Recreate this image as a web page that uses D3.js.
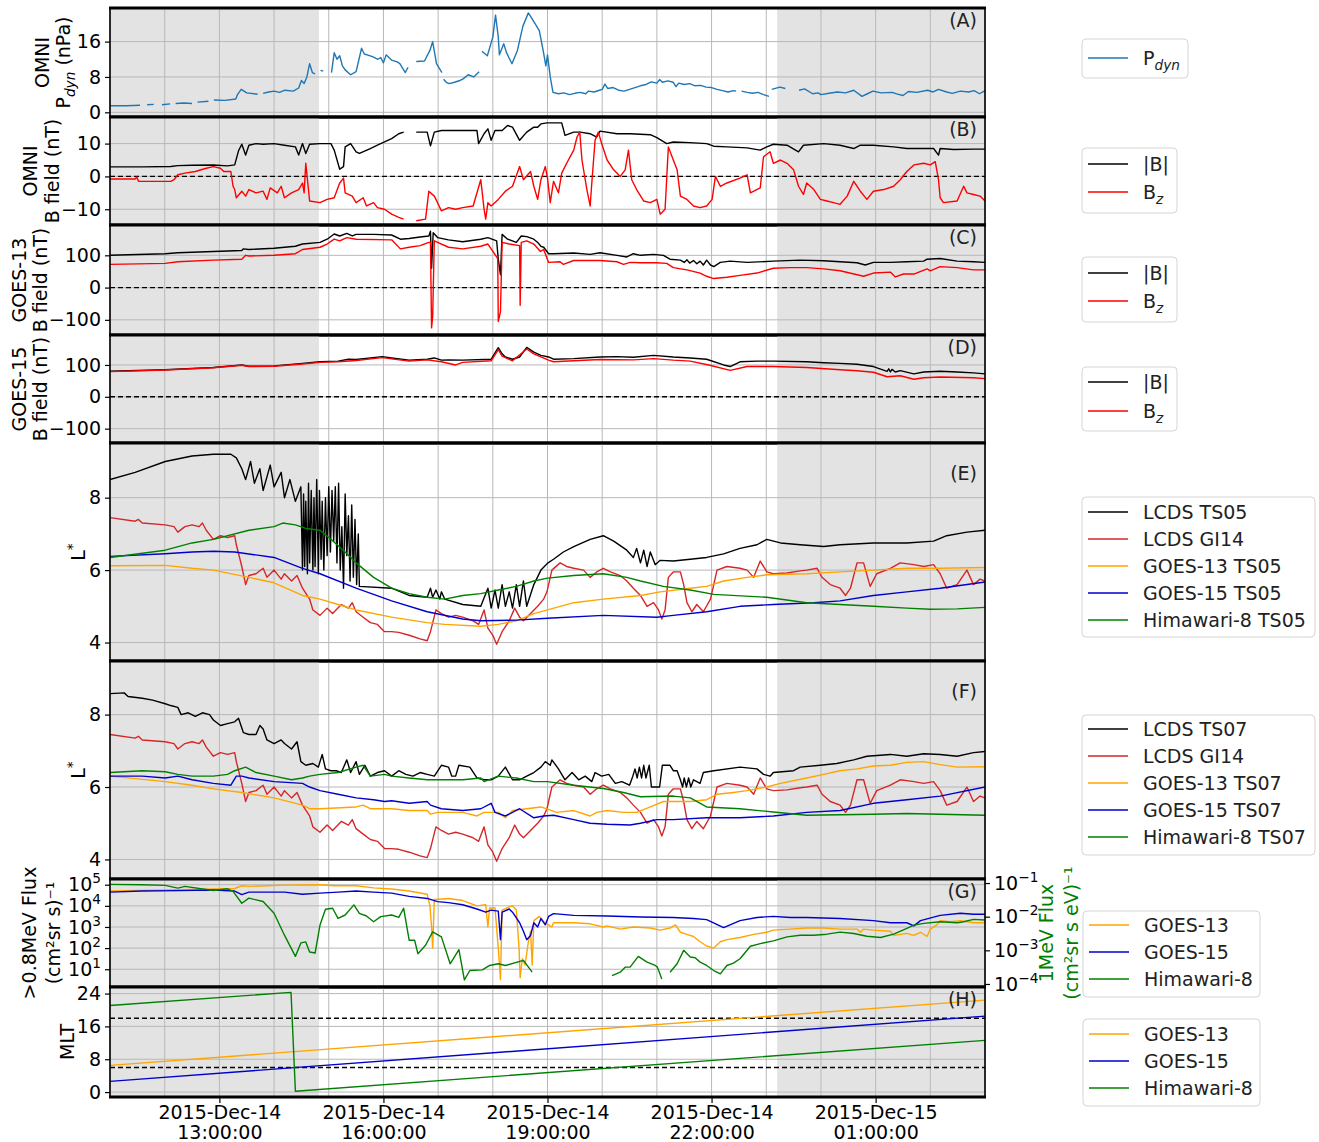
<!DOCTYPE html>
<html>
<head>
<meta charset="utf-8">
<script src="https://cdn.jsdelivr.net/npm/d3@7"></script>
<style>
  body { margin: 0; background: #fff; }
  text { font-family: "DejaVu Sans", sans-serif; }
</style>
</head>
<body>
<svg id="chart" width="1319" height="1142"></svg>
<script>
// ---- data : [hour since 2015-12-14 00:00 UT, value] ; null = data gap ----
const pdyn = [[11.0,1.5],[11.3,1.5],[11.55,1.6],[11.6,null],[11.68,1.7],[11.8,1.8],[11.85,null],[11.95,1.7],[12.1,1.9],[12.15,null],[12.2,2.0],[12.35,2.1],[12.5,2.0],[12.55,null],[12.6,2.3],[12.8,2.5],[12.85,null],[12.9,2.8],[13.1,2.7],[13.3,3.0],[13.33,4.0],[13.4,5.2],[13.5,4.4],[13.7,4.1],[13.75,null],[13.8,4.3],[13.9,4.6],[14.0,4.8],[14.1,4.5],[14.2,5.0],[14.35,4.8],[14.45,5.5],[14.5,7.2],[14.55,6.5],[14.6,8.0],[14.65,11.0],[14.7,9.0],[14.75,8.7],[14.8,null],[14.85,9.5],[14.9,9.3],[14.95,null],[15.05,9.0],[15.1,13.5],[15.15,12.0],[15.2,12.8],[15.25,10.5],[15.3,9.6],[15.4,8.5],[15.5,9.2],[15.6,14.5],[15.65,13.2],[15.7,13.0],[15.8,12.6],[15.9,12.0],[15.95,12.4],[16.0,11.2],[16.05,13.0],[16.15,11.8],[16.25,11.4],[16.3,11.0],[16.35,10.0],[16.4,9.0],[16.45,10.2],[16.5,null],[16.6,11.5],[16.75,11.6],[16.85,14.0],[16.9,16.0],[16.97,11.0],[17.07,9.0],[17.09,null],[17.1,7.5],[17.15,6.8],[17.2,6.5],[17.3,6.8],[17.4,7.2],[17.45,7.5],[17.55,8.5],[17.65,8.0],[17.75,9.2],[17.77,null],[17.8,13.8],[17.9,12.8],[18.0,17.0],[18.05,22.0],[18.1,17.0],[18.12,13.0],[18.2,15.5],[18.25,13.5],[18.35,11.0],[18.45,14.0],[18.55,19.5],[18.65,22.5],[18.75,20.5],[18.85,18.5],[18.92,14.0],[18.97,10.5],[19.0,13.0],[19.05,8.0],[19.1,4.5],[19.2,4.2],[19.3,4.4],[19.4,4.0],[19.5,4.3],[19.6,4.5],[19.7,4.2],[19.75,4.8],[19.85,4.6],[19.95,5.0],[20.0,5.2],[20.05,6.4],[20.1,5.4],[20.2,5.6],[20.3,5.0],[20.4,4.8],[20.5,5.2],[20.6,5.6],[20.7,6.0],[20.8,6.3],[20.9,6.9],[21.0,6.6],[21.05,7.4],[21.1,6.8],[21.2,7.1],[21.3,6.8],[21.35,5.8],[21.4,6.6],[21.5,6.3],[21.6,6.5],[21.7,6.0],[21.8,6.1],[21.9,5.7],[22.0,5.6],[22.1,5.2],[22.2,4.9],[22.3,4.6],[22.4,4.9],[22.45,4.8],[22.5,null],[22.55,4.8],[22.65,4.5],[22.75,4.3],[22.85,4.5],[22.95,4.0],[23.05,3.6],[23.08,null],[23.1,5.2],[23.25,5.7],[23.35,5.4],[23.45,null],[23.6,5.0],[23.7,5.3],[23.85,4.2],[23.95,4.4],[24.0,4.0],[24.15,4.3],[24.3,4.6],[24.45,4.4],[24.6,5.0],[24.75,3.6],[24.85,4.2],[24.95,4.8],[25.1,4.4],[25.3,4.5],[25.4,4.1],[25.5,3.8],[25.6,4.7],[25.75,4.5],[25.95,5.0],[26.05,4.6],[26.15,5.2],[26.3,4.6],[26.4,4.3],[26.55,4.8],[26.7,4.6],[26.8,4.9],[26.9,4.2],[27.0,4.9]];

const omniB = [[11.0,2.9],[11.6,2.9],[12.11,3.0],[12.24,3.3],[12.5,3.4],[12.89,3.5],[13.15,3.2],[13.28,3.5],[13.35,7.8],[13.41,9.8],[13.48,6.5],[13.54,9.5],[13.67,10],[13.8,9.8],[14.0,10],[14.19,9.5],[14.39,9.0],[14.45,6.5],[14.52,10],[14.58,7.0],[14.65,9.8],[14.84,10],[15.04,10],[15.1,8.0],[15.2,2.2],[15.27,3.0],[15.3,9.0],[15.4,10],[15.5,7.5],[15.56,7.0],[15.76,8.5],[15.89,9.5],[16.02,10.5],[16.15,11.5],[16.28,13.0],[16.37,13.5],[16.5,null],[16.6,13.5],[16.8,13.5],[16.86,9.3],[16.93,13.5],[17.06,14],[17.45,14],[17.71,14],[17.74,10],[17.84,13],[17.91,14.5],[17.97,11],[18.04,14],[18.17,14],[18.27,15.5],[18.36,15],[18.49,11],[18.62,13.5],[18.75,15],[18.82,15],[18.88,16],[18.99,16.3],[19.11,16.3],[19.26,16.3],[19.32,12.5],[19.48,13.5],[19.6,13.5],[19.78,13],[19.9,12],[19.96,13.8],[20.27,13],[20.51,13],[20.88,12.7],[21.0,11.8],[21.18,10],[21.3,10.5],[21.61,10.3],[21.91,10],[22.04,9.2],[22.28,9.0],[22.65,8.7],[22.89,8.0],[23.01,9.0],[23.13,9.8],[23.38,9.5],[23.59,7.5],[23.68,9.5],[24.05,10],[24.35,9.5],[24.6,8.5],[24.72,9.5],[24.96,9.5],[25.33,9.0],[25.57,8.5],[25.88,8.5],[26.06,8.5],[26.15,6.5],[26.18,8.5],[26.43,8.2],[26.79,8.3],[27.0,8.3]];

const omniBz = [[11.0,-0.8],[11.46,-0.8],[11.49,-0.2],[11.52,-1.5],[12.11,-1.5],[12.17,-1.0],[12.24,0.5],[12.37,1.0],[12.56,1.5],[12.76,2.5],[12.89,3.0],[13.02,2.5],[13.08,1.5],[13.21,1.5],[13.25,-3.0],[13.28,-4.0],[13.31,-6.5],[13.41,-4.5],[13.48,-6.0],[13.54,-4.0],[13.67,-5.0],[13.8,-4.5],[13.87,-7.0],[13.93,-3.5],[14.06,-5.0],[14.13,-3.0],[14.19,-6.5],[14.32,-5.0],[14.45,-4.0],[14.52,-2.0],[14.55,-5.0],[14.58,4.0],[14.65,-7.5],[14.84,-8.0],[14.97,-7.0],[15.1,-6.5],[15.2,-2.0],[15.27,-0.5],[15.3,-5.0],[15.43,-6.0],[15.5,-8.0],[15.63,-6.5],[15.69,-9.0],[15.82,-8.0],[15.89,-9.5],[16.02,-10],[16.15,-11.5],[16.28,-12.5],[16.37,-13],[16.5,null],[16.6,-13.5],[16.77,-13],[16.83,-4.5],[16.93,-6.0],[16.99,-8.0],[17.06,-10.5],[17.19,-9.5],[17.32,-10],[17.45,-9.5],[17.64,-9.0],[17.78,-1.0],[17.84,-10],[17.87,-13],[17.91,-8.0],[17.97,-9.0],[18.1,-7.0],[18.23,-4.5],[18.36,-3.0],[18.49,3.0],[18.56,-1.0],[18.69,1.5],[18.75,-3.0],[18.82,-7.0],[18.88,-1.0],[18.96,3.0],[19.0,-0.5],[19.05,-8.0],[19.11,-1.5],[19.2,-5.0],[19.26,1.0],[19.35,4.0],[19.48,8.0],[19.54,12],[19.59,13.5],[19.63,5.0],[19.72,-4.0],[19.78,-9.0],[19.81,-2.0],[19.87,11],[19.93,13.5],[19.99,10],[20.09,5.0],[20.21,2.0],[20.33,0],[20.42,2.0],[20.48,8.0],[20.54,-1.0],[20.63,-4.0],[20.76,-7.5],[20.88,-8.0],[21.0,-7.0],[21.06,-11.5],[21.15,-10],[21.21,9.0],[21.3,5.0],[21.37,2.0],[21.43,-6.0],[21.55,-7.0],[21.67,-9.0],[21.79,-9.5],[21.91,-9.0],[22.01,-7.0],[22.07,0],[22.16,-3.0],[22.28,-2.0],[22.52,-0.5],[22.65,0.5],[22.71,-5.0],[22.89,-3.5],[22.95,6.0],[23.07,7.5],[23.13,4.0],[23.26,5.0],[23.38,4.0],[23.5,2.0],[23.59,-3.0],[23.68,-5.5],[23.74,-2.0],[23.87,-4.0],[23.99,-7.0],[24.11,-7.5],[24.23,-8.0],[24.35,-8.5],[24.48,-6.0],[24.6,-1.5],[24.72,-4.5],[24.84,-7.0],[24.96,-4.5],[25.15,-4.0],[25.33,-3.0],[25.45,-1.0],[25.57,1.5],[25.7,3.5],[25.88,4.0],[26.0,3.5],[26.09,4.5],[26.15,-1.0],[26.18,-6.5],[26.24,-8.0],[26.49,-7.5],[26.61,-3.0],[26.67,-5.0],[26.79,-5.5],[26.91,-6.0],[27.0,-7.5]];

const g13B = [[11.0,100],[12.01,105],[12.24,108],[12.89,112],[13.41,115],[13.44,120],[13.54,118],[14.0,122],[14.39,128],[14.52,135],[14.84,140],[14.97,150],[15.1,166],[15.2,160],[15.33,168],[15.43,160],[15.5,165],[15.82,165],[16.15,163],[16.31,150],[16.47,152],[16.67,157],[16.83,160],[16.86,175],[16.88,60],[16.91,170],[16.99,155],[17.19,148],[17.45,142],[17.78,150],[17.91,155],[18.07,145],[18.1,88],[18.14,40],[18.17,165],[18.27,150],[18.43,140],[18.52,160],[18.62,158],[18.75,150],[18.82,140],[18.88,128],[18.93,125],[19.02,105],[19.11,105],[19.48,107],[19.78,103],[19.96,108],[20.27,100],[20.45,95],[20.57,105],[20.7,100],[20.94,103],[21.12,100],[21.24,88],[21.43,85],[21.5,78],[21.55,86],[21.6,76],[21.67,84],[21.73,74],[21.79,82],[21.85,70],[21.91,85],[21.98,70],[22.04,65],[22.16,78],[22.34,82],[22.65,78],[23.13,82],[23.62,85],[24.05,83],[24.35,80],[24.66,77],[24.81,70],[24.96,78],[25.27,78],[25.57,80],[25.88,82],[25.94,88],[26.18,90],[26.49,82],[26.79,80],[27.0,78]];

const g13Bz = [[11.0,72],[12.01,75],[12.24,80],[12.89,85],[13.41,88],[13.48,100],[13.54,98],[14.0,100],[14.39,105],[14.52,118],[14.84,125],[14.97,135],[15.1,150],[15.2,145],[15.33,155],[15.5,150],[16.15,148],[16.31,120],[16.47,125],[16.67,130],[16.83,140],[16.86,140],[16.88,-125],[16.9,-90],[16.93,145],[17.19,125],[17.45,120],[17.78,128],[17.91,135],[18.09,90],[18.1,-105],[18.14,-75],[18.17,140],[18.3,135],[18.49,130],[18.5,-55],[18.52,140],[18.62,145],[18.75,135],[18.87,112],[18.93,118],[19.02,78],[19.23,80],[19.29,72],[19.48,84],[19.96,84],[20.27,80],[20.39,72],[20.51,78],[20.7,77],[21.0,77],[21.18,75],[21.3,62],[21.55,55],[21.79,45],[21.91,35],[22.04,28],[22.28,32],[22.52,38],[22.83,45],[23.13,60],[23.44,62],[23.74,62],[24.05,58],[24.35,52],[24.78,35],[24.96,45],[25.27,48],[25.36,33],[25.51,42],[25.7,42],[25.94,58],[26.0,52],[26.18,65],[26.49,62],[26.79,55],[27.0,55]];

const g15B = [[11.0,80],[12.01,85],[12.89,92],[13.41,100],[13.54,96],[14.0,97],[14.52,105],[14.84,110],[15.17,112],[15.36,118],[15.5,117],[15.98,126],[16.15,122],[16.47,115],[16.8,118],[16.93,122],[17.06,115],[17.19,116],[17.45,115],[17.97,118],[18.1,154],[18.17,135],[18.23,125],[18.36,118],[18.49,125],[18.62,155],[18.75,140],[18.88,130],[19.02,125],[19.11,118],[19.48,120],[19.96,125],[20.27,126],[20.57,124],[20.94,130],[21.3,125],[21.61,122],[21.91,118],[22.22,100],[22.34,95],[22.52,110],[22.83,112],[23.13,112],[23.74,110],[24.05,107],[24.35,105],[24.66,102],[24.96,95],[25.21,80],[25.24,88],[25.27,78],[25.3,86],[25.36,78],[25.45,82],[25.7,72],[25.88,78],[26.18,80],[26.49,78],[26.79,75],[27.0,72]];

const g15Bz = [[11.0,79],[12.01,84],[12.89,91],[13.41,99],[13.54,95],[14.0,96],[14.52,103],[14.84,108],[15.17,110],[15.5,114],[15.98,123],[16.15,119],[16.47,112],[16.8,116],[17.06,110],[17.32,100],[17.45,108],[17.97,113],[18.1,148],[18.17,128],[18.36,113],[18.62,150],[18.75,135],[19.02,115],[19.11,110],[19.48,113],[19.96,117],[20.57,116],[20.94,120],[21.3,115],[21.61,112],[21.95,100],[22.34,83],[22.65,95],[23.13,95],[23.74,92],[24.35,85],[24.66,82],[24.96,77],[25.21,63],[25.45,66],[25.7,55],[25.88,60],[26.18,62],[26.79,60],[27.0,57]];

const lcdsTS05 = [[11.0,8.5],[11.46,8.7],[12.01,9.0],[12.5,9.15],[12.89,9.2],[13.21,9.2],[13.31,9.1],[13.41,8.8],[13.48,8.5],[13.57,9.0],[13.64,8.4],[13.74,8.8],[13.8,8.2],[13.93,8.9],[14.0,8.3],[14.13,8.7],[14.19,8.0],[14.29,8.5],[14.39,7.9],[14.49,8.3],[14.52,6.0],[14.54,8.1],[14.56,6.1],[14.58,7.9],[14.61,5.9],[14.63,8.4],[14.65,6.2],[14.68,8.2],[14.71,6.0],[14.73,8.0],[14.75,6.1],[14.78,8.5],[14.81,5.9],[14.83,8.2],[14.86,6.3],[14.88,7.9],[14.91,6.0],[14.94,8.0],[14.97,6.4],[15.0,8.3],[15.03,6.5],[15.06,8.2],[15.09,6.8],[15.12,8.3],[15.15,6.2],[15.18,8.4],[15.21,6.0],[15.24,7.2],[15.27,5.5],[15.3,8.1],[15.33,6.4],[15.36,7.5],[15.39,5.7],[15.42,7.8],[15.45,5.8],[15.48,7.4],[15.51,5.6],[15.54,7.0],[15.56,5.55],[16.15,5.5],[16.47,5.3],[16.8,5.25],[16.86,5.5],[16.9,5.25],[16.96,5.45],[17.03,5.2],[17.06,5.4],[17.12,5.2],[17.45,5.05],[17.78,5.0],[17.91,5.5],[17.97,4.95],[18.04,5.45],[18.1,4.95],[18.17,5.6],[18.23,5.0],[18.3,5.4],[18.36,4.95],[18.43,5.6],[18.49,5.0],[18.56,5.7],[18.62,5.0],[18.75,5.6],[18.88,6.0],[19.01,6.2],[19.11,6.3],[19.29,6.5],[19.48,6.65],[19.78,6.85],[20.02,6.95],[20.21,6.8],[20.45,6.55],[20.57,6.35],[20.63,6.6],[20.7,6.2],[20.76,6.55],[20.82,6.1],[20.88,6.5],[20.97,6.15],[21.06,6.27],[21.3,6.25],[21.61,6.3],[21.91,6.35],[22.22,6.45],[22.52,6.6],[22.83,6.7],[23.01,6.85],[23.26,6.75],[23.62,6.7],[24.05,6.65],[24.35,6.7],[24.96,6.75],[25.57,6.75],[26.06,6.8],[26.3,6.95],[26.67,7.05],[27.0,7.1]];

const lcdsGI14 = [[11.0,7.45],[11.46,7.35],[11.52,7.4],[11.59,7.3],[12.01,7.25],[12.17,7.2],[12.24,7.05],[12.37,7.2],[12.5,7.25],[12.63,7.2],[12.69,7.3],[12.76,7.1],[12.89,6.85],[13.02,6.95],[13.15,6.9],[13.28,6.95],[13.31,6.7],[13.41,6.1],[13.48,5.6],[13.54,5.85],[13.67,5.9],[13.8,6.05],[13.87,5.8],[14.0,6.0],[14.13,5.75],[14.19,5.9],[14.32,5.7],[14.42,5.85],[14.52,5.5],[14.65,5.2],[14.71,4.9],[14.84,4.75],[14.97,4.95],[15.07,4.8],[15.23,5.05],[15.36,4.95],[15.43,5.1],[15.5,4.85],[15.63,4.7],[15.76,4.55],[15.89,4.5],[16.02,4.3],[16.15,4.3],[16.28,4.28],[16.47,4.2],[16.67,4.1],[16.8,4.05],[16.86,4.3],[16.96,4.9],[17.06,4.8],[17.19,4.7],[17.32,4.75],[17.45,4.7],[17.64,4.6],[17.74,4.5],[17.84,4.9],[17.91,4.4],[18.0,4.2],[18.07,3.95],[18.17,4.3],[18.3,4.6],[18.4,4.95],[18.49,4.7],[18.56,4.6],[18.69,4.8],[18.82,5.0],[18.93,5.2],[18.99,5.4],[19.08,6.0],[19.23,6.2],[19.35,6.1],[19.48,6.05],[19.66,6.0],[19.78,5.8],[19.9,5.95],[20.02,6.05],[20.15,5.95],[20.33,5.85],[20.45,5.7],[20.57,5.5],[20.7,5.3],[20.82,5.0],[20.94,5.1],[21.03,4.9],[21.09,4.65],[21.15,4.9],[21.21,5.8],[21.3,5.95],[21.43,5.95],[21.49,5.6],[21.55,5.1],[21.64,4.85],[21.73,5.05],[21.85,4.85],[21.98,5.2],[22.04,5.6],[22.1,6.0],[22.28,6.1],[22.52,6.05],[22.65,6.0],[22.77,5.8],[22.89,6.25],[23.01,5.95],[23.13,5.9],[23.38,5.92],[23.62,5.98],[23.74,6.0],[23.93,6.05],[24.02,5.8],[24.17,5.6],[24.35,5.5],[24.45,5.3],[24.54,5.5],[24.66,6.2],[24.78,6.2],[24.9,5.55],[25.02,5.9],[25.27,6.05],[25.45,6.2],[25.7,6.15],[25.88,6.1],[26.06,6.15],[26.18,5.9],[26.3,5.5],[26.49,5.6],[26.67,6.0],[26.79,5.6],[26.91,5.75],[27.0,5.7]];

const g13TS05 = [[11.0,6.12],[12.01,6.13],[12.5,6.05],[12.89,6.0],[13.54,5.8],[14.0,5.65],[14.52,5.3],[14.84,5.2],[15.17,5.05],[15.5,4.9],[16.15,4.7],[16.8,4.55],[17.12,4.5],[17.78,4.45],[18.1,4.5],[18.43,4.6],[18.75,4.8],[19.0,4.9],[19.48,5.1],[20.02,5.2],[20.7,5.3],[21.06,5.4],[21.61,5.5],[21.91,5.55],[22.22,5.7],[22.65,5.8],[23.01,5.87],[23.74,5.9],[24.35,5.95],[24.96,6.0],[25.57,6.05],[26.18,6.05],[27.0,6.07]];

const g15TS05 = [[11.0,6.38],[12.01,6.45],[12.5,6.5],[12.89,6.52],[13.28,6.5],[14.0,6.35],[14.52,6.05],[14.84,5.9],[15.5,5.5],[16.15,5.15],[16.8,4.85],[17.45,4.65],[17.78,4.6],[18.43,4.62],[19.0,4.67],[20.02,4.75],[21.0,4.7],[21.3,4.75],[21.91,4.85],[22.52,5.0],[23.13,5.05],[23.87,5.1],[24.35,5.15],[24.96,5.3],[25.57,5.4],[26.18,5.5],[27.0,5.67]];

const himTS05 = [[11.0,6.35],[12.01,6.55],[12.5,6.75],[12.89,6.85],[13.54,7.1],[14.0,7.2],[14.16,7.3],[14.39,7.25],[14.58,7.15],[14.84,7.1],[15.04,6.85],[15.3,6.5],[15.5,6.2],[15.82,5.8],[16.15,5.5],[16.47,5.35],[16.8,5.25],[17.12,5.2],[17.45,5.3],[17.78,5.35],[18.1,5.45],[18.43,5.55],[18.75,5.7],[19.0,5.78],[19.48,5.85],[20.02,5.9],[20.45,5.8],[20.7,5.7],[21.12,5.55],[21.61,5.45],[22.04,5.33],[23.01,5.25],[23.74,5.1],[24.35,5.05],[24.96,5.0],[25.57,4.95],[26.0,4.92],[26.49,4.93],[27.0,4.97]];

const lcdsTS07 = [[11.0,8.58],[11.26,8.6],[11.33,8.5],[11.59,8.45],[11.78,8.4],[12.01,8.3],[12.11,8.25],[12.24,8.2],[12.3,8.0],[12.43,8.05],[12.56,7.95],[12.69,8.05],[12.82,8.0],[12.89,7.85],[13.02,7.7],[13.15,7.75],[13.28,7.8],[13.35,7.9],[13.44,7.5],[13.54,7.45],[13.67,7.45],[13.74,7.7],[13.8,7.6],[13.87,7.3],[14.0,7.2],[14.13,7.3],[14.19,7.2],[14.32,7.05],[14.42,7.25],[14.49,6.7],[14.58,6.6],[14.71,6.65],[14.81,6.55],[14.88,6.9],[14.94,6.5],[15.04,6.45],[15.14,6.45],[15.23,6.4],[15.33,6.75],[15.4,6.4],[15.5,6.7],[15.56,6.35],[15.66,6.6],[15.76,6.3],[15.89,6.4],[16.02,6.45],[16.15,6.3],[16.28,6.45],[16.41,6.35],[16.54,6.3],[16.67,6.4],[16.8,6.35],[16.93,6.3],[17.06,6.6],[17.19,6.55],[17.25,6.3],[17.32,6.3],[17.38,6.6],[17.58,6.55],[17.71,6.25],[17.84,6.2],[17.97,6.2],[18.1,6.3],[18.23,6.55],[18.36,6.2],[18.49,6.2],[18.62,6.3],[18.75,6.4],[18.88,6.55],[18.96,6.7],[19.05,6.6],[19.08,6.75],[19.2,6.5],[19.32,6.2],[19.45,6.4],[19.57,6.2],[19.69,6.3],[19.81,6.15],[19.87,6.4],[19.99,6.3],[20.12,6.35],[20.24,6.1],[20.36,6.15],[20.5,6.05],[20.56,6.3],[20.6,6.5],[20.64,6.25],[20.68,6.55],[20.72,6.25],[20.76,6.6],[20.8,6.25],[20.86,6.6],[20.9,6.0],[21.05,6.0],[21.1,6.6],[21.24,6.6],[21.3,6.45],[21.37,6.45],[21.43,6.2],[21.47,6.0],[21.5,6.25],[21.54,6.0],[21.58,6.25],[21.62,6.0],[21.67,6.2],[21.79,6.1],[21.85,6.4],[22.04,6.45],[22.52,6.55],[22.83,6.5],[22.95,6.35],[23.07,6.3],[23.13,6.4],[23.5,6.45],[23.62,6.55],[23.99,6.6],[24.29,6.65],[24.6,6.75],[24.84,6.85],[25.27,6.9],[25.57,6.85],[25.88,6.92],[26.18,6.9],[26.49,6.85],[26.79,6.95],[27.0,6.98]];

const g13TS07 = [[11.0,6.3],[12.01,6.15],[12.5,6.05],[12.89,5.95],[13.41,5.85],[14.0,5.7],[14.52,5.5],[14.65,5.4],[14.84,5.4],[15.5,5.45],[15.63,5.5],[15.76,5.4],[16.15,5.4],[16.47,5.35],[16.8,5.35],[16.86,5.25],[16.99,5.3],[17.45,5.3],[17.71,5.2],[17.84,5.3],[18.1,5.3],[18.23,5.15],[18.36,5.35],[18.62,5.4],[18.88,5.45],[19.17,5.3],[19.48,5.35],[19.78,5.2],[19.9,5.3],[20.09,5.35],[20.39,5.3],[20.63,5.3],[20.88,5.45],[21.12,5.6],[21.3,5.6],[21.61,5.6],[21.91,5.65],[22.1,5.8],[22.4,5.85],[22.65,5.9],[23.01,6.0],[23.26,6.1],[23.74,6.25],[24.05,6.35],[24.35,6.45],[24.66,6.5],[24.96,6.58],[25.27,6.6],[25.57,6.68],[25.88,6.7],[26.18,6.62],[26.49,6.55],[27.0,6.56]];

const g15TS07 = [[11.0,6.3],[11.59,6.3],[12.01,6.25],[12.24,6.3],[12.5,6.2],[12.89,6.1],[13.21,6.05],[13.31,6.3],[13.41,6.3],[13.54,6.25],[14.0,6.15],[14.52,6.1],[14.65,6.0],[14.84,5.9],[15.17,5.8],[15.5,5.7],[15.82,5.65],[16.02,5.6],[16.15,5.62],[16.47,5.55],[16.8,5.6],[16.86,5.5],[17.06,5.4],[17.45,5.35],[17.78,5.4],[17.97,5.55],[18.04,5.3],[18.23,5.2],[18.49,5.4],[18.75,5.15],[18.93,5.2],[19.11,5.22],[19.48,5.1],[19.78,5.0],[20.09,4.97],[20.51,4.95],[20.7,5.0],[21.0,5.1],[21.3,5.1],[21.91,5.15],[22.52,5.15],[23.13,5.2],[23.74,5.3],[24.35,5.35],[24.96,5.55],[25.57,5.65],[26.18,5.75],[27.0,6.0]];

const himTS07 = [[11.0,6.4],[11.59,6.45],[12.01,6.42],[12.24,6.35],[12.5,6.3],[12.89,6.3],[13.15,6.35],[13.28,6.45],[13.48,6.55],[13.67,6.4],[14.0,6.3],[14.32,6.2],[14.52,6.25],[14.65,6.3],[14.84,6.35],[15.17,6.4],[15.5,6.55],[15.63,6.6],[15.76,6.3],[16.02,6.35],[16.15,6.3],[16.47,6.25],[16.8,6.2],[17.12,6.2],[17.45,6.2],[17.78,6.25],[17.84,6.15],[18.1,6.3],[18.43,6.25],[18.75,6.15],[19.0,6.15],[19.48,6.05],[20.02,5.96],[20.39,5.85],[20.7,5.73],[21.3,5.75],[21.61,5.7],[21.91,5.45],[22.52,5.4],[23.13,5.31],[23.74,5.22],[24.96,5.25],[25.57,5.27],[27.0,5.22]];

// flux panel: log10 of the flux
const g13FluxLog = [[11.0,4.7],[12.01,4.75],[12.89,4.8],[13.28,4.82],[13.41,4.95],[13.54,4.92],[14.19,4.98],[14.84,5.0],[15.1,4.95],[15.5,4.95],[15.82,4.85],[16.15,4.8],[16.47,4.7],[16.8,4.55],[16.85,4.0],[16.88,3.0],[16.9,2.0],[16.93,4.3],[17.19,4.35],[17.45,4.25],[17.71,4.0],[17.87,4.05],[17.91,3.0],[17.94,3.9],[18.04,3.9],[18.1,2.0],[18.14,0.5],[18.17,3.8],[18.3,3.95],[18.36,4.0],[18.43,3.8],[18.48,2.0],[18.5,0.6],[18.54,1.5],[18.59,1.2],[18.65,2.3],[18.69,2.8],[18.72,1.2],[18.75,3.3],[18.85,3.5],[18.95,3.2],[19.02,3.1],[19.08,3.0],[19.11,3.2],[19.48,3.2],[19.78,3.15],[20.02,3.0],[20.09,3.05],[20.33,2.9],[20.57,3.0],[20.88,2.95],[21.06,2.85],[21.24,2.95],[21.34,3.1],[21.43,2.75],[21.55,2.65],[21.67,2.55],[21.79,2.3],[21.91,2.1],[22.04,2.0],[22.16,2.3],[22.28,2.4],[22.52,2.5],[22.77,2.65],[23.01,2.75],[23.13,2.85],[23.44,2.9],[23.74,2.95],[24.05,2.95],[24.35,2.9],[24.66,2.9],[24.72,2.75],[24.78,2.9],[24.96,2.85],[25.27,2.8],[25.33,2.6],[25.57,2.7],[25.7,2.6],[25.82,2.75],[25.94,2.55],[26.0,2.9],[26.12,3.1],[26.18,3.3],[26.37,3.25],[26.55,3.3],[26.79,3.2],[27.0,3.2]];

const g15FluxLog = [[11.0,4.65],[11.59,4.7],[12.24,4.72],[12.89,4.75],[13.28,4.7],[13.41,4.53],[13.54,4.65],[14.19,4.65],[14.52,4.55],[14.84,4.6],[15.17,4.65],[15.5,4.7],[15.82,4.65],[16.15,4.6],[16.47,4.45],[16.8,4.35],[16.99,4.2],[17.19,4.15],[17.45,4.05],[17.71,3.85],[17.87,3.7],[17.97,3.8],[18.1,3.75],[18.14,2.4],[18.17,3.7],[18.3,3.85],[18.36,3.7],[18.49,3.2],[18.56,2.8],[18.62,2.4],[18.69,2.6],[18.75,3.2],[18.82,3.0],[18.88,3.4],[18.96,3.1],[19.02,3.5],[19.11,3.63],[19.48,3.55],[20.09,3.52],[20.7,3.47],[21.3,3.45],[21.67,3.4],[21.91,3.35],[22.22,2.97],[22.52,3.3],[22.83,3.45],[23.13,3.5],[23.44,3.45],[23.74,3.45],[24.35,3.4],[24.96,3.3],[25.27,3.2],[25.57,3.2],[25.7,3.05],[25.82,3.3],[26.18,3.55],[26.55,3.65],[26.79,3.6],[27.0,3.6]];

const himFluxLog = [[11.0,-1.04],[11.59,-1.05],[12.01,-1.07],[12.24,-1.15],[12.37,-1.1],[12.89,-1.22],[13.15,-1.17],[13.25,-1.25],[13.41,-1.6],[13.54,-1.45],[13.8,-1.55],[14.0,-1.9],[14.19,-2.55],[14.39,-3.18],[14.49,-2.78],[14.58,-2.75],[14.65,-3.05],[14.75,-3.08],[14.84,-2.25],[14.94,-1.78],[15.07,-1.75],[15.17,-2.05],[15.3,-1.95],[15.46,-1.65],[15.56,-1.9],[15.69,-1.98],[15.82,-2.15],[15.95,-2.0],[16.15,-1.95],[16.28,-2.02],[16.37,-1.75],[16.47,-2.7],[16.57,-2.7],[16.63,-3.1],[16.77,-2.85],[16.9,-2.45],[17.06,-2.6],[17.22,-3.4],[17.38,-2.98],[17.48,-3.88],[17.58,-3.6],[17.81,-3.58],[17.94,-3.45],[18.1,-3.4],[18.23,-3.45],[18.56,-3.3],[18.72,-3.65],[18.8,null],[20.18,-3.75],[20.33,-3.65],[20.42,-3.5],[20.51,-3.5],[20.66,-3.18],[20.82,-3.35],[20.97,-3.45],[21.01,-3.5],[21.09,-3.85],[21.15,null],[21.24,-3.65],[21.37,-3.4],[21.49,-3.0],[21.61,-3.2],[21.7,-3.22],[21.79,-3.35],[21.91,-3.45],[22.04,-3.6],[22.16,-3.7],[22.28,-3.45],[22.4,-3.38],[22.52,-3.25],[22.71,-2.88],[22.89,-2.8],[23.13,-2.72],[23.38,-2.6],[23.62,-2.55],[23.87,-2.55],[24.11,-2.52],[24.35,-2.46],[24.6,-2.5],[24.84,-2.58],[25.09,-2.62],[25.33,-2.52],[25.57,-2.35],[25.7,-2.25],[25.88,-2.2],[26.18,-2.15],[26.49,-2.18],[26.61,-2.15],[26.79,-2.08],[27.0,-2.1]];

const g13Mlt = [[11.0,6.5],[27.0,22.4]];
const g15Mlt = [[11.0,2.6],[27.0,18.5]];
const himMlt = [[11.0,21.1],[14.31,24.3],[14.39,0.2],[27.0,12.6]];

const nightBands = [[11.0,14.82],[23.2,27.0]];
const dateTicks = [13, 16, 19, 22, 25];
const labelsE = ["LCDS TS05","LCDS GI14","GOES-13 TS05","GOES-15 TS05","Himawari-8 TS05"];
const labelsF = ["LCDS TS07","LCDS GI14","GOES-13 TS07","GOES-15 TS07","Himawari-8 TS07"];
const labelsSat = ["GOES-13","GOES-15","Himawari-8"];

// ---- colours ----
const cBlack = "#000", cRed = "#f00", cRed2 = "#d62728", cOrange = "#ffa500", cBlue = "#0000cd", cGreen = "#008000", cPdyn = "#1f77b4";

const svg = d3.select("#chart");
const X0 = 110, X1 = 985, FS = 19;
const T0 = Date.UTC(2015, 11, 14);
const toDate = h => new Date(T0 + h * 3600e3);
const x = d3.scaleUtc().domain([toDate(11), toDate(27)]).range([X0, X1]);

// text with sub/superscript parts
function rich(t, parts, size) {
  let shift = 0;
  parts.forEach(([s, k]) => {
    const want = k === "sub" ? 0.3 * size : k === "sup" ? -0.42 * size : 0;
    const ts = t.append("tspan").text(s);
    if (want - shift !== 0) ts.attr("dy", want - shift);
    if (k) ts.attr("font-size", size * 0.72);
    if (k === "sub") ts.attr("font-style", "italic");
    shift = want;
  });
}

const panels = [
  { key: "A", top: 8, bottom: 117, dom: [-1.06, 23.6], ticks: [0, 8, 16],
    ylab: [[[["OMNI", ""]], 42], [[["P", ""], ["dyn", "sub"], [" (nPa)", ""]], 63]],
    series: [[pdyn, cPdyn]],
    legend: { box: [1082, 39, 106, 39], ys: [58], items: [[[["P", ""], ["dyn", "sub"]], cPdyn]] } },
  { key: "B", top: 117, bottom: 225, dom: [-14.8, 18.1], ticks: [-10, 0, 10], refs: [0],
    ylab: [[[["OMNI", ""]], 30], [[["B field (nT)", ""]], 52]],
    series: [[omniB, cBlack], [omniBz, cRed]],
    legend: { box: [1082, 148, 95, 65], ys: [164, 192], items: [[[["|B|", ""]], cBlack], [[["B", ""], ["z", "sub"]], cRed]] } },
  { key: "C", top: 225, bottom: 335, dom: [-147, 194], ticks: [-100, 0, 100], refs: [0],
    ylab: [[[["GOES-13", ""]], 19], [[["B field (nT)", ""]], 40]],
    series: [[g13B, cBlack], [g13Bz, cRed]],
    legend: { box: [1082, 257, 95, 65], ys: [273, 301], items: [[[["|B|", ""]], cBlack], [[["B", ""], ["z", "sub"]], cRed]] } },
  { key: "D", top: 335, bottom: 443, dom: [-145, 194], ticks: [-100, 0, 100], refs: [0],
    ylab: [[[["GOES-15", ""]], 19], [[["B field (nT)", ""]], 40]],
    series: [[g15B, cBlack], [g15Bz, cRed]],
    legend: { box: [1082, 367, 95, 64], ys: [382, 411], items: [[[["|B|", ""]], cBlack], [[["B", ""], ["z", "sub"]], cRed]] } },
  { key: "E", top: 443, bottom: 661, dom: [3.49, 9.51], ticks: [4, 6, 8],
    ylab: [[[["L", ""], ["*", "sup"]], 78]],
    series: [[lcdsTS05, cBlack], [lcdsGI14, cRed2], [g13TS05, cOrange], [g15TS05, cBlue], [himTS05, cGreen]],
    legend: { box: [1082, 497, 233, 140], ys: [512, 539, 566, 593, 620],
      items: labelsE.map((l, i) => [[[l, ""]], [cBlack, cRed2, cOrange, cBlue, cGreen][i]]) } },
  { key: "F", top: 661, bottom: 879, dom: [3.46, 9.48], ticks: [4, 6, 8],
    ylab: [[[["L", ""], ["*", "sup"]], 78]],
    series: [[lcdsTS07, cBlack], [lcdsGI14, cRed2], [g13TS07, cOrange], [g15TS07, cBlue], [himTS07, cGreen]],
    legend: { box: [1082, 715, 233, 140], ys: [729, 756, 783, 810, 837],
      items: labelsF.map((l, i) => [[[l, ""]], [cBlack, cRed2, cOrange, cBlue, cGreen][i]]) } },
  { key: "G", top: 879, bottom: 987, log: true,
    ylab: [[[[">0.8MeV Flux", ""]], 29], [[["(cm²sr s)⁻¹", ""]], 53]],
    legend: { box: [1083, 911, 177, 86], ys: [925, 952, 979],
      items: labelsSat.map((l, i) => [[[l, ""]], [cOrange, cBlue, cGreen][i]]) } },
  { key: "H", top: 987, bottom: 1097, dom: [-1.2, 25.6], ticks: [0, 8, 16, 24], refs: [6, 18],
    ylab: [[[["MLT", ""]], 67]],
    series: [[g13Mlt, cOrange], [g15Mlt, cBlue], [himMlt, cGreen]],
    legend: { box: [1083, 1019, 177, 87], ys: [1034, 1061, 1088],
      items: labelsSat.map((l, i) => [[[l, ""]], [cOrange, cBlue, cGreen][i]]) } }
];

function drawLine(g, data, y, color, tf) {
  const f = tf || (v => v);
  g.append("path")
    .datum(data)
    .attr("fill", "none")
    .attr("stroke", color)
    .attr("stroke-width", 1.4)
    .attr("stroke-linejoin", "round")
    .attr("d", d3.line()
      .defined(d => d[1] != null)
      .x(d => x(toDate(d[0])))
      .y(d => y(f(d[1]))));
}

panels.forEach(p => {
  const g = svg.append("g");
  const clipId = "clip" + p.key;
  svg.append("clipPath").attr("id", clipId)
    .append("rect").attr("x", X0).attr("y", p.top).attr("width", X1 - X0).attr("height", p.bottom - p.top);

  let y, yR;
  if (p.log) {
    y = d3.scaleLog().domain([Math.pow(10, 0.16), Math.pow(10, 5.27)]).range([p.bottom, p.top]);
    yR = d3.scaleLog().domain([Math.pow(10, -4.09), Math.pow(10, -0.88)]).range([p.bottom, p.top]);
    p.ticks = [1e1, 1e2, 1e3, 1e4, 1e5];
  } else {
    y = d3.scaleLinear().domain(p.dom).range([p.bottom, p.top]);
  }

  // night shading
  g.selectAll(".band").data(nightBands).join("rect")
    .attr("x", d => x(toDate(d[0])))
    .attr("width", d => x(toDate(d[1])) - x(toDate(d[0])))
    .attr("y", p.top).attr("height", p.bottom - p.top)
    .attr("fill", "#e3e3e3");

  // grid
  g.selectAll(".vg").data(x.ticks(d3.utcHour.every(1))).join("line")
    .attr("x1", d => x(d)).attr("x2", d => x(d))
    .attr("y1", p.top).attr("y2", p.bottom)
    .attr("stroke", "#b8b8b8").attr("stroke-width", 1);
  g.selectAll(".hg").data(p.ticks).join("line")
    .attr("x1", X0).attr("x2", X1)
    .attr("y1", d => y(d)).attr("y2", d => y(d))
    .attr("stroke", "#b8b8b8").attr("stroke-width", 1);

  // dashed reference lines
  (p.refs || []).forEach(r => {
    g.append("line").attr("x1", X0).attr("x2", X1).attr("y1", y(r)).attr("y2", y(r))
      .attr("stroke", "#000").attr("stroke-width", 1.4).attr("stroke-dasharray", "5,3");
  });

  const lines = g.append("g").attr("clip-path", `url(#${clipId})`);
  if (p.log) {
    drawLine(lines, g13FluxLog, y, cOrange, v => Math.pow(10, v));
    drawLine(lines, g15FluxLog, y, cBlue, v => Math.pow(10, v));
    drawLine(lines, himFluxLog, yR, cGreen, v => Math.pow(10, v));
  } else {
    p.series.forEach(([data, color]) => drawLine(lines, data, y, color));
  }

  // frame
  g.append("rect").attr("x", X0).attr("y", p.top).attr("width", X1 - X0).attr("height", p.bottom - p.top)
    .attr("fill", "none").attr("stroke", "#000").attr("stroke-width", 1.6);
  [p.top, p.bottom].forEach(yy => {
    g.append("line").attr("x1", X0 - 1).attr("x2", X1 + 1).attr("y1", yy).attr("y2", yy)
      .attr("stroke", "#000").attr("stroke-width", 3);
  });

  // left axis
  const ax = g.append("g").attr("transform", `translate(${X0},0)`)
    .call(d3.axisLeft(y).tickValues(p.ticks).tickSize(5).tickPadding(4)
      .tickFormat(p.log ? () => "" : d3.format("d")));
  ax.select(".domain").remove();
  ax.selectAll("line").attr("stroke", "#000").attr("stroke-width", 1.2);
  ax.selectAll("text").attr("font-size", FS).attr("font-family", "DejaVu Sans").attr("fill", "#000");
  if (p.log) {
    ax.selectAll(".tick text").each(function (d) {
      const t = d3.select(this).attr("dy", "0.32em");
      rich(t, [["10", ""], [String(Math.round(Math.log10(d))), "sup"]], FS);
    });
    const axR = g.append("g").attr("transform", `translate(${X1},0)`)
      .call(d3.axisRight(yR).tickValues([1e-4, 1e-3, 1e-2, 1e-1]).tickSize(5).tickPadding(4).tickFormat(() => ""));
    axR.select(".domain").remove();
    axR.selectAll("line").attr("stroke", "#000").attr("stroke-width", 1.2);
    axR.selectAll(".tick text").attr("font-size", FS).attr("font-family", "DejaVu Sans").attr("fill", "#000")
      .each(function (d) {
        const t = d3.select(this).attr("dy", "0.32em");
        rich(t, [["10", ""], ["−" + Math.round(-Math.log10(d)), "sup"]], FS);
      });
    const cyG = (p.top + p.bottom) / 2;
    [["1MeV Flux", 1046], ["(cm²sr s eV)⁻¹", 1071]].forEach(([s, lx]) => {
      svg.append("text").attr("transform", `translate(${lx},${cyG}) rotate(-90)`)
        .attr("text-anchor", "middle").attr("y", 0.35 * FS).attr("font-size", FS)
        .attr("fill", cGreen).text(s);
    });
  }

  // y label (rotated, one column per line)
  const cy = (p.top + p.bottom) / 2;
  p.ylab.forEach(([parts, lx]) => {
    const t = svg.append("text").attr("transform", `translate(${lx},${cy}) rotate(-90)`)
      .attr("x", 0).attr("y", 0.35 * FS)
      .attr("text-anchor", "middle").attr("font-size", FS).attr("fill", "#000");
    rich(t, parts, FS);
  });

  // panel letter
  svg.append("text").attr("x", 977).attr("y", p.top + 0.163 * (p.bottom - p.top) + 1)
    .attr("text-anchor", "end").attr("font-size", FS).attr("fill", "#222").text(`(${p.key})`);

  // legend
  const L = p.legend;
  const lg = svg.append("g");
  lg.append("rect").attr("x", L.box[0]).attr("y", L.box[1]).attr("width", L.box[2]).attr("height", L.box[3])
    .attr("rx", 4).attr("fill", "#fff").attr("stroke", "#d5d5d5").attr("stroke-width", 1);
  L.items.forEach(([parts, color], i) => {
    const yy = L.ys[i];
    lg.append("line").attr("x1", L.box[0] + 6).attr("x2", L.box[0] + 46).attr("y1", yy).attr("y2", yy)
      .attr("stroke", color).attr("stroke-width", 1.4);
    const t = lg.append("text").attr("x", L.box[0] + 61).attr("y", yy + 0.35 * FS)
      .attr("font-size", FS).attr("fill", "#222");
    rich(t, parts, FS);
  });

  // bottom time axis under the last panel
  if (p.key === "H") {
    const bx = svg.append("g").attr("transform", `translate(0,${p.bottom})`)
      .call(d3.axisBottom(x).tickValues(dateTicks.map(toDate)).tickSize(6).tickFormat(() => ""));
    bx.select(".domain").remove();
    bx.selectAll("line").attr("stroke", "#000").attr("stroke-width", 1.2);
    const fmtDay = d3.utcFormat("%Y-%b-%d"), fmtTime = d3.utcFormat("%H:%M:%S");
    bx.selectAll(".tick").each(function (d) {
      const t = d3.select(this).append("text").attr("text-anchor", "middle")
        .attr("font-size", FS).attr("font-family", "DejaVu Sans").attr("fill", "#000");
      t.append("tspan").attr("x", 0).attr("y", 22).text(fmtDay(d));
      t.append("tspan").attr("x", 0).attr("y", 42).text(fmtTime(d));
    });
  }
});
</script>
</body>
</html>
